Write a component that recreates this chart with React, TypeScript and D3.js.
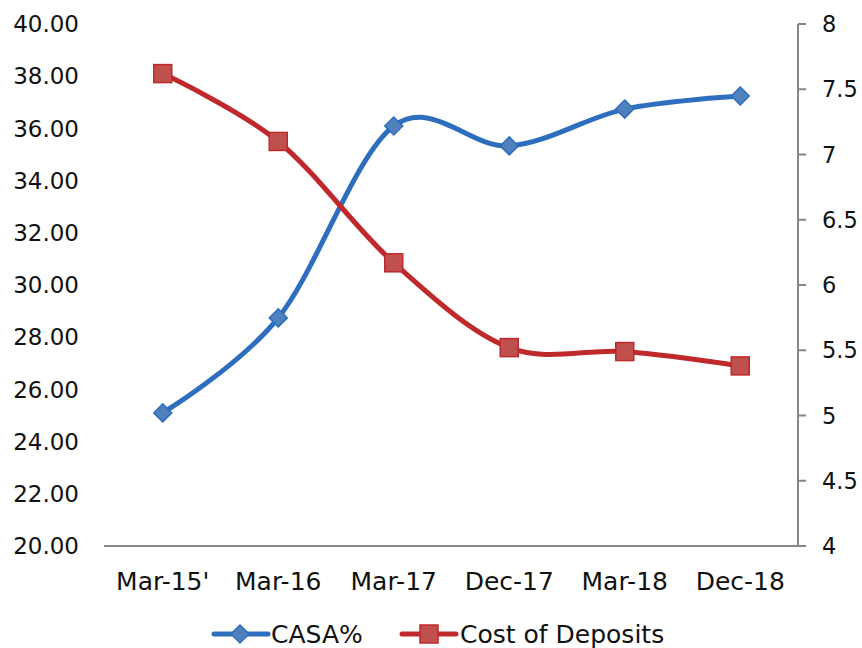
import * as d3 from 'd3'
import React from 'react'

const categories = ["Mar-15'", 'Mar-16', 'Mar-17', 'Dec-17', 'Mar-18', 'Dec-18']
const casa = [25.1, 28.74, 36.09, 35.33, 36.74, 37.24]
const costOfDeposits = [7.62, 7.1, 6.17, 5.52, 5.49, 5.38]
const leftTicks = [20, 22, 24, 26, 28, 30, 32, 34, 36, 38, 40]
const rightTicks = [4, 4.5, 5, 5.5, 6, 6.5, 7, 7.5, 8]

const W = 862, H = 648
const FONT = 'DejaVu Sans'
const BLUE = '#2E6EBE', BLUE_FILL = '#4F81BD'
const RED = '#C0292B', RED_FILL = '#C0504D'

export default function App() {
  const
    left = 105, right = 798, top = 24, bottom = 546,
    x = d3.scaleBand().domain(categories).range([left, right]),
    yL = d3.scaleLinear().domain([20, 40]).range([bottom, top]),
    yR = d3.scaleLinear().domain([4, 8]).range([bottom, top]),
    cx = (c: string) => x(c)! + x.bandwidth() / 2,
    curve = d3.curveCardinal.tension(0),
    casaLine = d3.line<number>().x((_, i) => cx(categories[i])).y(d => yL(d)).curve(curve),
    codLine = d3.line<number>().x((_, i) => cx(categories[i])).y(d => yR(d)).curve(curve),
    diamond = (px: number, py: number, r = 9) => `M${px},${py - r}L${px + r},${py}L${px},${py + r}L${px - r},${py}Z`

  return (
    <svg width={W} height={H} style={{ position: 'absolute', left: 0, top: 0, background: '#fff' }}
      fontFamily={FONT} fontSize={25} fill='#111'>
      {/* axes */}
      <line x1={left - 1} x2={right} y1={bottom} y2={bottom} stroke='#868686' strokeWidth={2} />
      <line x1={right} x2={right} y1={top} y2={bottom} stroke='#868686' strokeWidth={2} />
      {rightTicks.map(t => (
        <g key={t}>
          <line x1={right} x2={right + 8} y1={yR(t)} y2={yR(t)} stroke='#868686' strokeWidth={2} />
          <text x={822} y={yR(t)} dy='0.36em' fontSize={22.5}>{t}</text>
        </g>
      ))}
      {leftTicks.map(t => (
        <text key={t} x={79} y={yL(t)} dy='0.36em' textAnchor='end' fontSize={23}>{t.toFixed(2)}</text>
      ))}
      {categories.map(c => (
        <text key={c} x={cx(c)} y={581} dy='0.36em' textAnchor='middle'>{c}</text>
      ))}

      {/* series */}
      <path d={casaLine(casa)!} fill='none' stroke={BLUE} strokeWidth={5} />
      <path d={codLine(costOfDeposits)!} fill='none' stroke={RED} strokeWidth={5} />
      {casa.map((v, i) => (
        <path key={i} d={diamond(cx(categories[i]), yL(v))} fill={BLUE_FILL} stroke={BLUE} strokeWidth={1.5} />
      ))}
      {costOfDeposits.map((v, i) => (
        <rect key={i} x={cx(categories[i]) - 9} y={yR(v) - 9} width={18} height={18}
          fill={RED_FILL} stroke={RED} strokeWidth={1.5} />
      ))}

      {/* legend */}
      <line x1={214} x2={268} y1={634} y2={634} stroke={BLUE} strokeWidth={5} strokeLinecap='round' />
      <path d={diamond(240, 634)} fill={BLUE_FILL} stroke={BLUE} strokeWidth={1.5} />
      <text x={271} y={634} dy='0.36em'>CASA%</text>
      <line x1={402} x2={456} y1={634} y2={634} stroke={RED} strokeWidth={5} strokeLinecap='round' />
      <rect x={420} y={625} width={18} height={18} fill={RED_FILL} stroke={RED} strokeWidth={1.5} />
      <text x={460} y={634} dy='0.36em'>Cost of Deposits</text>
    </svg>
  )
}
